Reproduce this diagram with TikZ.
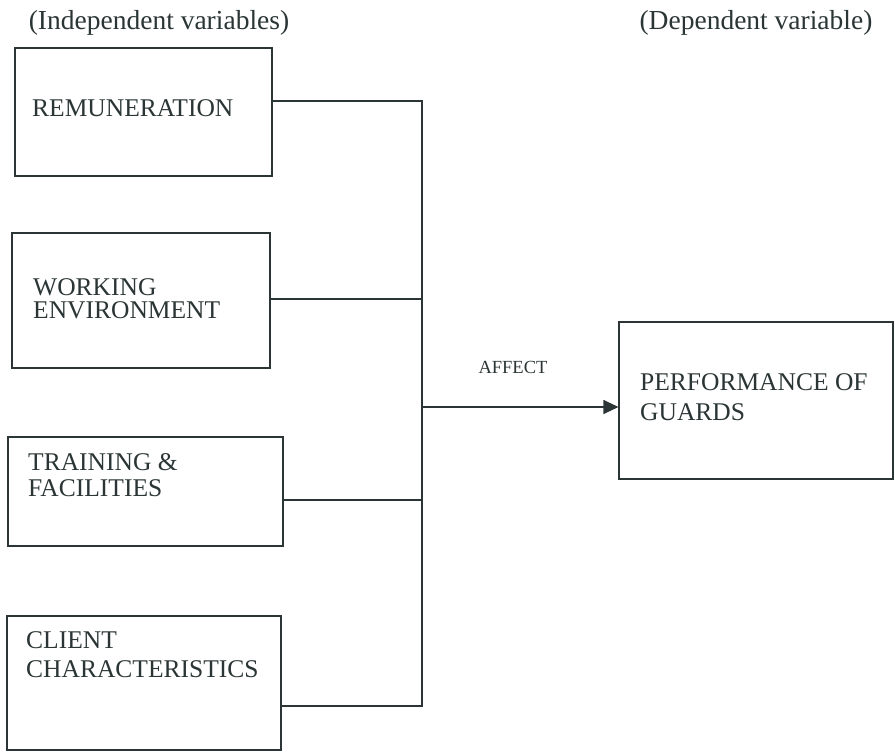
\documentclass[tikz,border=0pt]{standalone}
\usepackage{fontspec}
\setmainfont{Liberation Serif}
\usetikzlibrary{arrows.meta}
\definecolor{ink}{HTML}{2B3535}
\begin{document}
\begin{tikzpicture}[x=1pt,y=-1pt,
  box/.style={draw=ink,line width=1.1pt,inner sep=0pt,rectangle},
  lbl/.style={anchor=west,align=left,inner sep=0pt,text=ink,font=\fontsize{25.5}{#1}\selectfont},
  lbl/.default=27,
  hdr/.style={inner sep=0pt,text=ink,font=\fontsize{27.5}{30}\selectfont},
  wire/.style={draw=ink,line width=1.1pt}]
\useasboundingbox (0,0) rectangle (895,753);
\fill[white] (0,0) rectangle (895,753);
% headers
\node[hdr] (hi) at (159,23) {(Independent variables)};
\node[hdr] (hd) at (756,23) {(Dependent variable)};
% boxes
\node[box,minimum width=257pt,minimum height=128pt] (b1) at (143.5,112) {};
\node[box,minimum width=258pt,minimum height=135pt] (b2) at (141,300.5) {};
\node[box,minimum width=275pt,minimum height=109pt] (b3) at (145.5,491.5) {};
\node[box,minimum width=274pt,minimum height=134pt] (b4) at (144,683) {};
\node[box,minimum width=274pt,minimum height=157pt] (p) at (756,400.5) {};
% labels
\node[lbl] (t1) at (32,108) {REMUNERATION};
\node[lbl=23] (t2) at (33,299) {WORKING\\ENVIRONMENT};
\node[lbl=26] (t3) at (28,475) {TRAINING \&\\FACILITIES};
\node[lbl=29] (t4) at (26,655) {CLIENT\\CHARACTERISTICS};
\node[lbl=30] (tp) at (640,397) {PERFORMANCE OF\\GUARDS};
\node[inner sep=0pt,text=ink,font=\fontsize{18.5}{20}\selectfont] (af) at (513,367) {AFFECT};
% bus
\coordinate (j1) at (422,101);
\coordinate (j2) at (422,299);
\coordinate (ja) at (422,407);
\coordinate (j3) at (422,500);
\coordinate (j4) at (422,706);
\draw[wire] (j1 -| b1.east) -- (j1) -- (j4) -- (j4 -| b4.east);
\draw[wire] (j2 -| b2.east) -- (j2);
\draw[wire] (j3 -| b3.east) -- (j3);
\draw[wire,-{Triangle[length=15pt,width=14pt]}] (ja) -- (ja -| p.west);
\end{tikzpicture}
\end{document}
